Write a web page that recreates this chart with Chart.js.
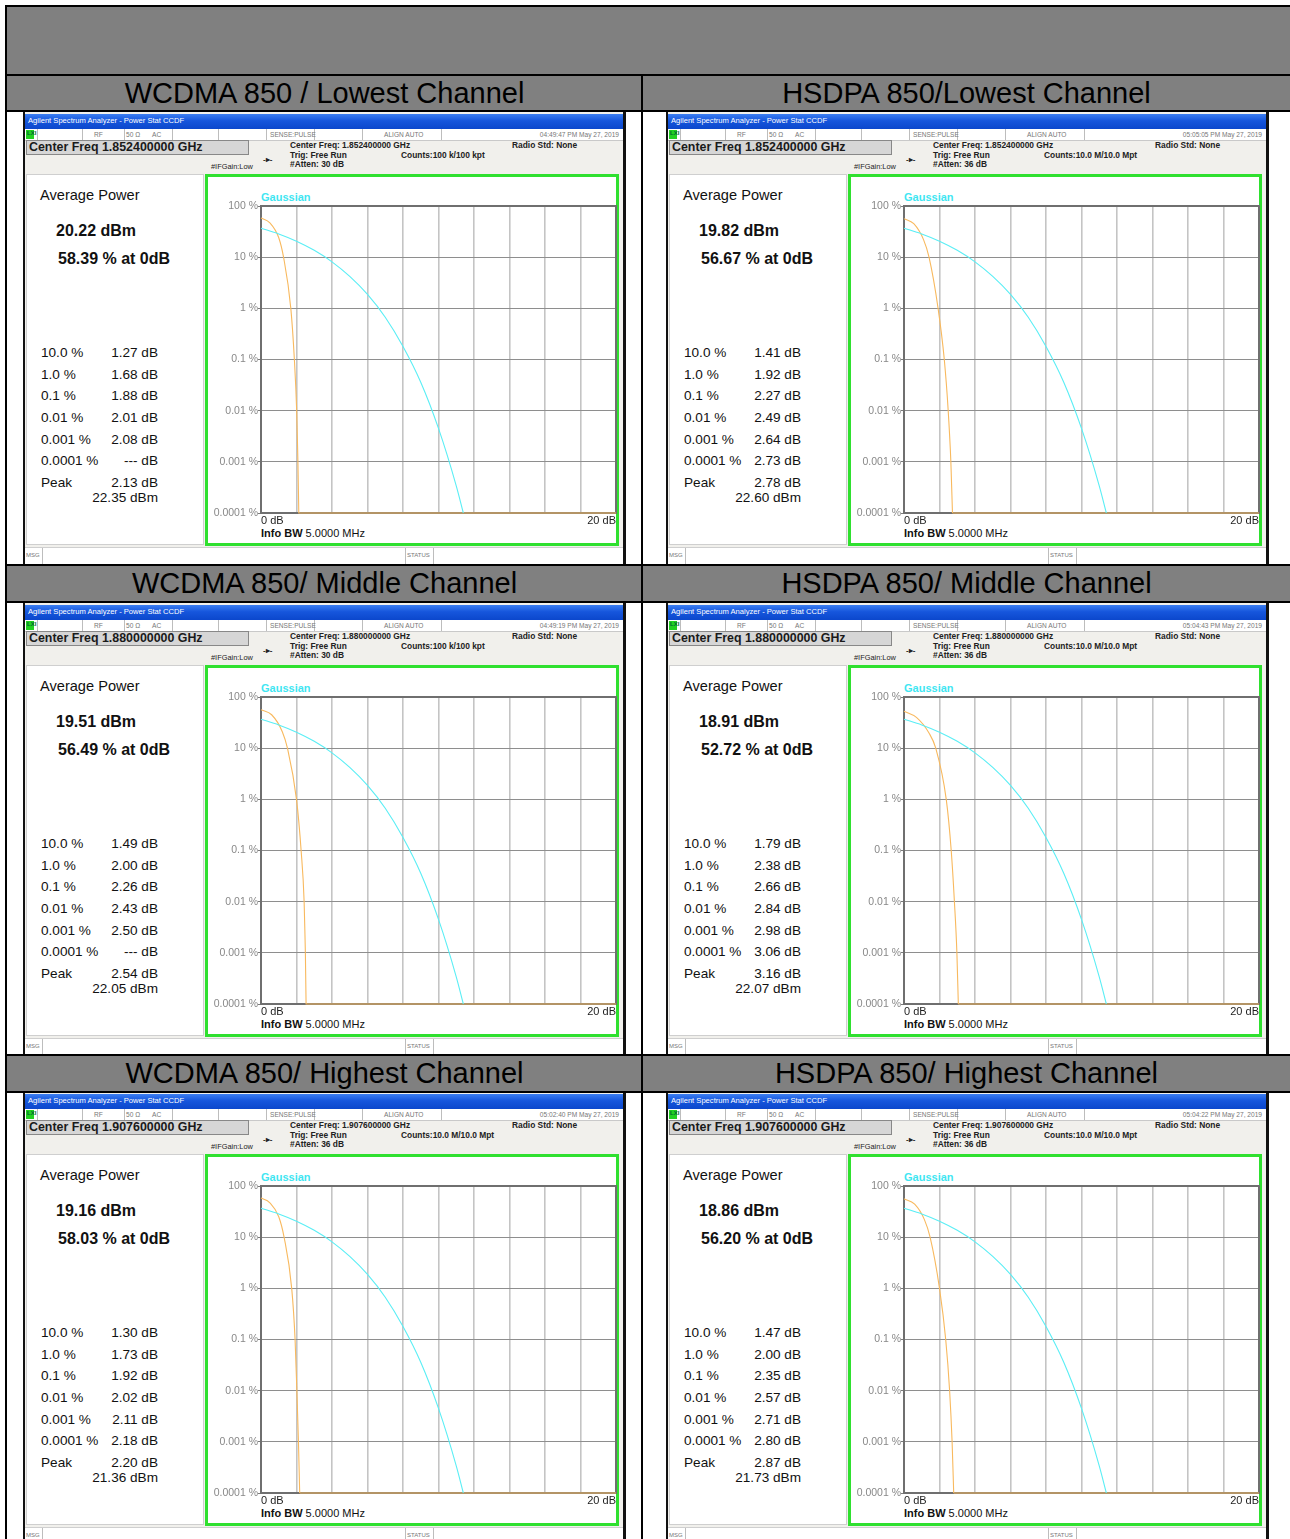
<!DOCTYPE html>
<html>
<head>
<meta charset="utf-8">
<script src="https://cdn.jsdelivr.net/npm/chart.js@4/dist/chart.umd.min.js"></script>
<style>
  body { margin:0; width:1290px; height:1539px; position:relative; overflow:hidden; background:#fff;
         font-family:"Liberation Sans", Arial, sans-serif; }
  .abs { position:absolute; white-space:nowrap; }
  .gray { position:absolute; background:#808080; }
  .title { position:absolute; background:#808080; color:#000; font-size:29px; display:flex;
           align-items:center; justify-content:center; white-space:nowrap; }
  .blk { position:absolute; background:#000; }
  .panel { position:absolute; width:603px; height:453px; background:#f1f0ec; overflow:hidden;
           box-sizing:border-box; border-left:2px solid #111; border-right:3px solid #111; }
  .tbar { position:absolute; left:0; top:2px; width:100%; height:15px;
          background:linear-gradient(#3b7ef2, #1656dc 45%, #0b47cc); }
  .srow { position:absolute; left:0; top:17px; width:100%; height:11px; background:#fff;
          border-bottom:1px solid #c9c9c9; }
  .sdiv { position:absolute; top:0; width:1px; height:11px; background:#bdbdbd; }
  .stxt { position:absolute; top:2px; font-size:6.6px; color:#777; white-space:nowrap; }
  .cfbox { position:absolute; left:1px; top:28px; width:219px; height:13px; background:#d6d6d6;
           border:1px solid #888; font-size:12.4px; font-weight:bold; color:#1a1a1a; line-height:13px;
           padding-left:2px; box-sizing:content-box; white-space:nowrap; }
  .small { position:absolute; font-size:8.4px; font-weight:bold; color:#222; white-space:nowrap; }
  .info { position:absolute; left:1px; top:62px; width:178px; height:371px; background:#fff;
          border:1px solid #cfcfcf; box-sizing:border-box; }
  .green { position:absolute; left:180px; top:62px; width:414px; height:372px; background:#fff;
           border:3px solid #2fe02f; box-sizing:border-box; }
  .sbar { position:absolute; left:0; top:435px; width:100%; height:17px; background:#fff;
          border-top:1px solid #cfcfcf; }
  canvas { position:absolute; }
</style>
</head>
<body>
<script>
// Panel headings, row by row (left column, right column)
const panelTitles = [
  'WCDMA 850 / Lowest Channel', 'HSDPA 850/Lowest Channel',
  'WCDMA 850/ Middle Channel', 'HSDPA 850/ Middle Channel',
  'WCDMA 850/ Highest Channel', 'HSDPA 850/ Highest Channel'
];
const centerFreqGHz = ['1.852400000', '1.852400000', '1.880000000', '1.880000000', '1.907600000', '1.907600000'];
const timestamps = [
  '04:49:47 PM May 27, 2019', '05:05:05 PM May 27, 2019',
  '04:49:19 PM May 27, 2019', '05:04:43 PM May 27, 2019',
  '05:02:40 PM May 27, 2019', '05:04:22 PM May 27, 2019'
];
const countsText = ['100 k/100 kpt', '10.0 M/10.0 Mpt', '100 k/100 kpt', '10.0 M/10.0 Mpt', '10.0 M/10.0 Mpt', '10.0 M/10.0 Mpt'];
const attenDb = [30, 36, 30, 36, 36, 36];

// Average power and probability at 0 dB
const avgPowerDbm = [20.22, 19.82, 19.51, 18.91, 19.16, 18.86];
const pctAtZero = [58.39, 56.67, 56.49, 52.72, 58.03, 56.20];

// CCDF table: power above average (dB) at each probability level
const ccdfLevelLabels = ['10.0 %', '1.0 %', '0.1 %', '0.01 %', '0.001 %', '0.0001 %'];
const ccdfLevelPct = [10, 1, 0.1, 0.01, 0.001, 0.0001];
const ccdfDb = [
  [1.27, 1.68, 1.88, 2.01, 2.08, null],
  [1.41, 1.92, 2.27, 2.49, 2.64, 2.73],
  [1.49, 2.00, 2.26, 2.43, 2.50, null],
  [1.79, 2.38, 2.66, 2.84, 2.98, 3.06],
  [1.30, 1.73, 1.92, 2.02, 2.11, 2.18],
  [1.47, 2.00, 2.35, 2.57, 2.71, 2.80]
];
const peakDb = [2.13, 2.78, 2.54, 3.16, 2.20, 2.87];
const peakDbm = [22.35, 22.60, 22.05, 22.07, 21.36, 21.73];

// Measured curve shoulder between 0 dB and the 10 % point
const shoulderDb = [[0.5, 1.0], [0.55, 1.1], [0.6, 1.2], [0.7, 1.4], [0.5, 1.0], [0.6, 1.15]];
const shoulderPct = [[47, 24], [45, 22], [45, 21], [40, 20], [47, 25], [44, 22]];

// Gaussian reference trace
const gaussDb = [0, 1, 2, 3, 4, 5, 6, 7, 8, 9, 10, 11, 11.4];
const gaussPct = [36.8, 28.4, 20.5, 13.6, 8.1, 4.2, 1.87, 0.67, 0.18, 0.036, 0.0045, 0.00034, 0.0001];

// Axis ticks
const yTickValues = [100, 10, 1, 0.1, 0.01, 0.001, 0.0001];
const yTickLabels = ['100 %', '10 %', '1 %', '0.1 %', '0.01 %', '0.001 %', '0.0001 %'];
const xTickLabels = { 0: '0 dB', 20: '20 dB' };

const colLeft = [23, 666];
const rowTop = [112, 603, 1092];
const titleTop = [75, 565, 1055];

function el(parent, cls, css, text) {
  const d = document.createElement('div');
  if (cls) d.className = cls;
  if (css) d.style.cssText = css;
  if (text !== undefined) d.textContent = text;
  parent.appendChild(d);
  return d;
}

// Outer table frame
el(document.body, 'gray', 'left:6px;top:6px;width:1284px;height:69px');

// Frame outline for plot area drawn under the traces
const framePlugin = {
  id: 'plotFrame',
  beforeDatasetsDraw(chart) {
    const { ctx, chartArea: a } = chart;
    ctx.save();
    ctx.strokeStyle = '#6f6f6f';
    ctx.lineWidth = 2;
    ctx.strokeRect(a.left, a.top, a.right - a.left, a.bottom - a.top);
    ctx.restore();
  }
};

function buildPanel(i) {
  const col = i % 2, row = Math.floor(i / 2);
  const p = el(document.body, 'panel', `left:${colLeft[col]}px;top:${rowTop[row]}px`);

  const tb = el(p, 'tbar');
  el(tb, null, 'position:absolute;left:3px;top:2px;color:#fff;font-size:7.6px;white-space:nowrap',
     'Agilent Spectrum Analyzer - Power Stat CCDF');

  const sr = el(p, 'srow');
  el(sr, null, 'position:absolute;left:1px;top:1px;width:8px;height:9px;background:#22d022');
  el(sr, 'stxt', 'left:2px;top:1px;color:#063;font-weight:bold;font-size:6px', 'LXI');
  [12, 57, 99, 147, 193, 241, 289, 337, 416].forEach(x => el(sr, 'sdiv', `left:${x}px`));
  el(sr, 'stxt', 'left:69px', 'RF');
  el(sr, 'stxt', 'left:101px', '50 \u03A9');
  el(sr, 'stxt', 'left:127px', 'AC');
  el(sr, 'stxt', 'left:245px', 'SENSE:PULSE');
  el(sr, 'stxt', 'left:359px', 'ALIGN AUTO');
  el(sr, 'stxt', 'right:4px', timestamps[i]);

  el(p, 'cfbox', null, 'Center Freq ' + centerFreqGHz[i] + ' GHz');
  el(p, 'small', 'left:265px;top:28px', 'Center Freq: ' + centerFreqGHz[i] + ' GHz');
  el(p, 'small', 'left:487px;top:28px', 'Radio Std: None');
  el(p, 'small', 'left:265px;top:38px', 'Trig: Free Run');
  el(p, 'small', 'left:376px;top:38px', 'Counts:' + countsText[i]);
  el(p, 'small', 'left:265px;top:47px', '#Atten: ' + attenDb[i] + ' dB');
  el(p, 'small', 'left:186px;top:50px;font-weight:normal;font-size:7.4px', '#IFGain:Low');
  el(p, 'small', 'left:238px;top:43px;font-size:8px', '-\u25B8-');

  // Left info pane
  const info = el(p, 'info');
  el(info, 'abs', 'left:13px;top:12px;font-size:14.6px;color:#111', 'Average Power');
  el(info, 'abs', 'left:29px;top:47px;font-size:16px;font-weight:bold;color:#111', avgPowerDbm[i].toFixed(2) + ' dBm');
  el(info, 'abs', 'left:31px;top:75px;font-size:16px;font-weight:bold;color:#111', pctAtZero[i].toFixed(2) + ' % at 0dB');
  const rowsY = [170, 191.5, 213, 235, 256.5, 278];
  ccdfLevelLabels.forEach((lab, k) => {
    el(info, 'abs', `left:14px;top:${rowsY[k]}px;font-size:13.6px;color:#111`, lab);
    const v = ccdfDb[i][k];
    el(info, 'abs', `right:45px;top:${rowsY[k]}px;font-size:13.6px;color:#111`, (v === null ? '---' : v.toFixed(2)) + ' dB');
  });
  el(info, 'abs', 'left:14px;top:300px;font-size:13.6px;color:#111', 'Peak');
  el(info, 'abs', 'right:45px;top:300px;font-size:13.6px;color:#111', peakDb[i].toFixed(2) + ' dB');
  el(info, 'abs', 'right:45px;top:315px;font-size:13.6px;color:#111', peakDbm[i].toFixed(2) + ' dBm');

  // Plot box
  el(p, 'green');
  el(p, 'abs', 'left:236px;top:79px;font-size:11px;font-weight:bold;color:#3fe6f2', 'Gaussian');
  const ib = el(p, 'abs', 'left:236px;top:415px;font-size:11px;color:#111');
  ib.innerHTML = '<b>Info BW</b> 5.0000 MHz';

  const sb = el(p, 'sbar');
  el(sb, 'stxt', 'left:1px;top:4px;font-size:6px', 'MSG');
  el(sb, 'sdiv', 'left:17px;height:16px');
  el(sb, 'sdiv', 'left:380px;height:16px');
  el(sb, 'sdiv', 'left:408px;height:16px');
  el(sb, 'stxt', 'left:382px;top:4px;font-size:6px', 'STATUS');

  const cv = document.createElement('canvas');
  cv.width = 409; cv.height = 366;
  cv.style.cssText = 'left:183px;top:65px;width:409px;height:366px';
  p.appendChild(cv);

  const upper = [{ x: 0, y: pctAtZero[i] }];
  shoulderDb[i].forEach((d, k) => upper.push({ x: d, y: shoulderPct[i][k] }));
  ccdfDb[i].forEach((d, k) => { if (d !== null) upper.push({ x: d, y: ccdfLevelPct[k] }); });
  const floor = yTickValues[yTickValues.length - 1];
  const last = upper[upper.length - 1];
  const tail = [last, { x: peakDb[i], y: floor }, { x: 20, y: floor }];
  const gauss = gaussDb.map((d, k) => ({ x: d, y: gaussPct[k] }));

  new Chart(cv, {
    type: 'line',
    data: {
      datasets: [
        { data: gauss, borderColor: '#5aeef5', borderWidth: 1.1, pointRadius: 0, cubicInterpolationMode: 'monotone', clip: false },
        { data: upper, borderColor: '#f8b95e', borderWidth: 1.1, pointRadius: 0, cubicInterpolationMode: 'monotone', clip: false },
        { data: tail, borderColor: '#f8b95e', borderWidth: 1.1, pointRadius: 0, tension: 0, clip: false }
      ]
    },
    options: {
      responsive: false, animation: false, devicePixelRatio: 1,
      layout: { padding: { top: 29, right: 1, left: 0, bottom: 0 } },
      plugins: { legend: { display: false }, tooltip: { enabled: false } },
      scales: {
        x: {
          type: 'linear', min: 0, max: 20,
          afterFit: s => { s.height = 30; },
          ticks: { stepSize: 2, autoSkip: false, maxRotation: 0, align: 'inner', padding: 1,
                   color: '#1e1e1e', font: { size: 11, family: 'Liberation Sans' },
                   callback: v => xTickLabels[v] !== undefined ? xTickLabels[v] : '' },
          grid: { color: '#c4c4c4', lineWidth: 1.6, drawTicks: false },
          border: { display: false }
        },
        y: {
          type: 'logarithmic', min: 0.0001, max: 100,
          afterFit: s => { s.width = 53; },
          afterBuildTicks: s => { s.ticks = yTickValues.map(v => ({ value: v })); },
          ticks: { color: '#888', padding: 0, font: { size: 10.5, family: 'Liberation Sans' },
                   callback: (v, idx) => yTickLabels[idx] },
          grid: { color: '#8e8e8e', lineWidth: 1, tickLength: 3, tickColor: '#7a7a7a' },
          border: { display: false }
        }
      }
    },
    plugins: [framePlugin]
  });
}

for (let i = 0; i < 6; i++) buildPanel(i);

// Channel heading rows
titleTop.forEach((t, r) => {
  el(document.body, 'title', `left:7px;top:${t}px;width:635px;height:36px`, panelTitles[r * 2]);
  el(document.body, 'title', `left:643px;top:${t}px;width:647px;height:36px`, panelTitles[r * 2 + 1]);
});

// Black rules
el(document.body, 'blk', 'left:5px;top:5px;width:1285px;height:2px');
el(document.body, 'blk', 'left:5px;top:5px;width:2px;height:1534px');
[74, 110, 564, 601, 1054, 1091].forEach(y => el(document.body, 'blk', `left:5px;top:${y}px;width:1285px;height:2px`));
el(document.body, 'blk', 'left:641px;top:75px;width:2px;height:1464px');
</script>
</body>
</html>
